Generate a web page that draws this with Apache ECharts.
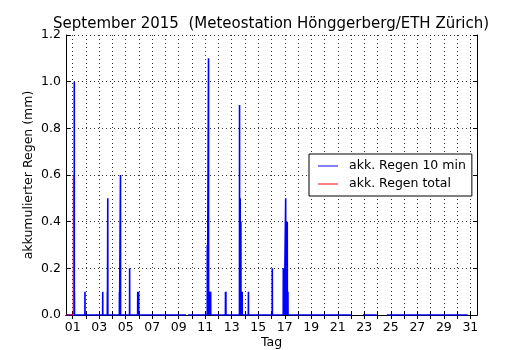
<!DOCTYPE html>
<html>
<head>
<meta charset="utf-8">
<script src="https://cdn.jsdelivr.net/npm/echarts@6/dist/echarts.min.js"></script>
<style>
html, body { margin: 0; padding: 0; background: #fff; }
#chart { width: 530px; height: 350px; }
</style>
</head>
<body>
<div id="chart"></div>
<script>
// 10-minute rain amounts (mm); time given as fractional day of the month
const rainDay = [1.115, 1.125, 1.135, 1.93, 3.27, 3.62, 3.65, 4.53, 4.61, 5.30, 5.91, 5.98,
  11.16, 11.25, 11.30, 11.41, 12.53, 12.56, 13.59, 13.64, 13.69, 13.74, 13.79, 14.26,
  16.06, 16.89, 16.96, 17.07, 17.11, 17.19, 17.24];
const rainMm = [0.1, 1.0, 0.1, 0.1, 0.1, 0.1, 0.5, 0.1, 0.6, 0.2, 0.1, 0.1,
  0.3, 1.1, 0.1, 0.1, 0.1, 0.1, 0.9, 0.5, 0.4, 0.1, 0.1, 0.1,
  0.2, 0.2, 0.1, 0.5, 0.1, 0.4, 0.1];

// stretches without station records
const gapStart = [9.55, 22.05, 23.95];
const gapEnd = [9.70, 22.90, 24.70];
const recordStart = 0.5;
const recordEnd = 30.8;

// running total (mm)
const totalDay = [0.5, 1.05, 1.06];
const totalMm = [0.0, 0.0, 0.6];

// axis ticks
const dayTicks = [1, 2, 3, 4, 5, 6, 7, 8, 9, 10, 11, 12, 13, 14, 15, 16, 17, 18, 19, 20,
  21, 22, 23, 24, 25, 26, 27, 28, 29, 30, 31];
const dayLabels = [1, 3, 5, 7, 9, 11, 13, 15, 17, 19, 21, 23, 25, 27, 29, 31];
const dayMin = 0.5, dayMax = 31.5;
const mmMin = 0, mmMax = 1.2, mmStep = 0.2;

// one reading every 10 minutes; zero readings flank each rain reading
const step = 1 / 144;
const pts = [[recordStart, 0], [recordEnd, 0]];
rainDay.forEach((d, i) => {
  pts.push([d - step, 0], [d, rainMm[i]], [d + step, 0]);
});
gapStart.forEach((g, i) => {
  pts.push([g, 0], [g + 1e-4, '-'], [gapEnd[i] - 1e-4, '-'], [gapEnd[i], 0]);
});
pts.sort((a, b) => a[0] - b[0]);
const tenMin = pts;
const total = totalDay.map((d, i) => [d, totalMm[i]]);

const FONT = 'DejaVu Sans';
const dotted = { type: [1, 3], color: '#333', width: 1 };
const frame = { show: true, lineStyle: { color: '#000', width: 1 } };

const chart = echarts.init(document.getElementById('chart'), null, { renderer: 'canvas' });
chart.setOption({
  animation: false,
  backgroundColor: '#fff',
  title: {
    text: 'September 2015  (Meteostation Hönggerberg/ETH Zürich)',
    left: 48, top: 12,
    textStyle: { fontFamily: FONT, fontSize: 15, fontWeight: 'normal', color: '#000' }
  },
  legend: {
    left: 309, top: 154,
    orient: 'vertical',
    backgroundColor: '#fff',
    borderColor: '#000', borderWidth: 1,
    padding: [5, 6, 5, 9],
    icon: 'rect',
    itemWidth: 20, itemHeight: 1, itemGap: 4,
    textStyle: { fontFamily: FONT, fontSize: 12.5, color: '#000', lineHeight: 14, padding: [0, 0, 0, 6] },
    data: ['akk. Regen 10 min', 'akk. Regen total']
  },
  grid: { left: 66, right: 53, top: 35, bottom: 35, outerBoundsMode: 'none', containLabel: false },
  xAxis: [{
    type: 'value', position: 'bottom', min: dayMin, max: dayMax,
    name: 'Tag', nameLocation: 'middle', nameGap: 21, nameMoveOverlap: false,
    nameTextStyle: { fontFamily: FONT, fontSize: 12.5, color: '#000', verticalAlign: 'top' },
    axisLine: frame,
    axisTick: { show: true, inside: true, length: 4, customValues: dayTicks, lineStyle: { color: '#000' } },
    axisLabel: {
      customValues: dayLabels, margin: 6,
      fontFamily: FONT, fontSize: 12.5, color: '#000',
      formatter: v => String(Math.round(v)).padStart(2, '0')
    },
    splitLine: { show: true, lineStyle: dotted }
  }, {
    type: 'value', position: 'top', min: dayMin, max: dayMax,
    axisLine: frame,
    axisTick: { show: true, inside: true, length: 4, customValues: dayTicks, lineStyle: { color: '#000' } },
    axisLabel: { show: false },
    splitLine: { show: false }
  }],
  yAxis: [{
    type: 'value', position: 'left', min: mmMin, max: mmMax, interval: mmStep,
    name: 'akkumulierter Regen (mm)', nameLocation: 'middle', nameGap: 31, nameMoveOverlap: false,
    nameTextStyle: { fontFamily: FONT, fontSize: 12.5, color: '#000' },
    axisLine: frame,
    axisTick: { show: true, inside: true, length: 4, lineStyle: { color: '#000' } },
    axisLabel: { margin: 5, fontFamily: FONT, fontSize: 12.5, color: '#000', formatter: v => v.toFixed(1) },
    splitLine: { show: true, lineStyle: dotted }
  }, {
    type: 'value', position: 'right', min: mmMin, max: mmMax, interval: mmStep,
    axisLine: frame,
    axisTick: { show: true, inside: true, length: 4, lineStyle: { color: '#000' } },
    axisLabel: { show: false },
    splitLine: { show: false }
  }],
  series: [{
    name: 'akk. Regen 10 min', type: 'line', data: tenMin,
    xAxisIndex: 0, yAxisIndex: 0, z: 5,
    symbol: 'none', connectNulls: false,
    lineStyle: { color: '#0000ff', width: 1.6 }, itemStyle: { color: '#0000ff' },
    clip: true
  }, {
    name: 'akk. Regen total', type: 'line', data: total,
    xAxisIndex: 0, yAxisIndex: 0, z: 6,
    symbol: 'none',
    lineStyle: { color: '#ff0000', width: 1.2 }, itemStyle: { color: '#ff0000' },
    clip: true
  }]
});
</script>
</body>
</html>
